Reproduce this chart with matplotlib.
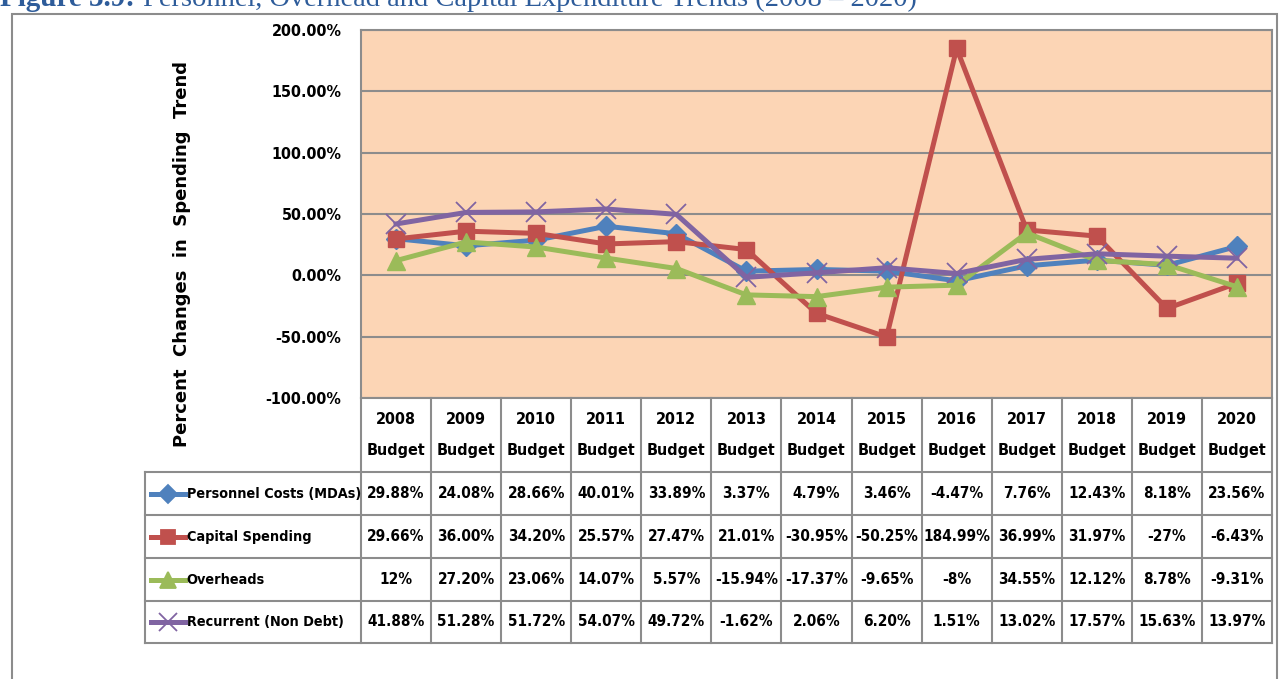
import matplotlib.pyplot as plt
from matplotlib.patches import Rectangle
from matplotlib.lines import Line2D
from matplotlib.ticker import FuncFormatter

# data
years = ['2008', '2009', '2010', '2011', '2012', '2013', '2014',
         '2015', '2016', '2017', '2018', '2019', '2020']
personnel = [29.88, 24.08, 28.66, 40.01, 33.89, 3.37, 4.79, 3.46, -4.47, 7.76, 12.43, 8.18, 23.56]
capital = [29.66, 36.00, 34.20, 25.57, 27.47, 21.01, -30.95, -50.25, 184.99, 36.99, 31.97, -27, -6.43]
overheads = [12, 27.20, 23.06, 14.07, 5.57, -15.94, -17.37, -9.65, -8, 34.55, 12.12, 8.78, -9.31]
recurrent = [41.88, 51.28, 51.72, 54.07, 49.72, -1.62, 2.06, 6.20, 1.51, 13.02, 17.57, 15.63, 13.97]

# the table shows some values without decimals, keep them as printed
personnel_txt = ['29.88%', '24.08%', '28.66%', '40.01%', '33.89%', '3.37%', '4.79%', '3.46%', '-4.47%', '7.76%', '12.43%', '8.18%', '23.56%']
capital_txt = ['29.66%', '36.00%', '34.20%', '25.57%', '27.47%', '21.01%', '-30.95%', '-50.25%', '184.99%', '36.99%', '31.97%', '-27%', '-6.43%']
overheads_txt = ['12%', '27.20%', '23.06%', '14.07%', '5.57%', '-15.94%', '-17.37%', '-9.65%', '-8%', '34.55%', '12.12%', '8.78%', '-9.31%']
recurrent_txt = ['41.88%', '51.28%', '51.72%', '54.07%', '49.72%', '-1.62%', '2.06%', '6.20%', '1.51%', '13.02%', '17.57%', '15.63%', '13.97%']

series = [
    ('Personnel Costs (MDAs)', personnel, personnel_txt, '#4F81BD', 'D', 10),
    ('Capital Spending', capital, capital_txt, '#C0504D', 's', 11.5),
    ('Overheads', overheads, overheads_txt, '#9BBB59', '^', 13),
    ('Recurrent (Non Debt)', recurrent, recurrent_txt, '#8064A2', 'x', 15),
]

plt.rcParams['font.family'] = ['DejaVu Sans']
plt.rcParams['font.stretch'] = 'condensed'
FS = 11

W, H = 1280, 679
fig = plt.figure(figsize=(W / 100, H / 100), dpi=100)


def px(x0, y0, x1, y1):
    # pixel box (top-left origin) to figure fraction
    return [x0 / W, 1 - y1 / H, (x1 - x0) / W, (y1 - y0) / H]


# outer frame
fig.patches.append(Rectangle((12 / W, -0.01), (1277 - 12) / W, 1 - 14 / H + 0.01,
                             transform=fig.transFigure, fill=False,
                             edgecolor='#8c8c8c', linewidth=1.5))

# title, cut by the top edge like in the source
serif = ['Liberation Serif', 'DejaVu Serif']
fig.text(0 / W, 1 - 6 / H, 'Figure 3.9:', color='#2E5C9A', fontsize=21,
         fontweight='bold', family=serif, stretch='normal', va='baseline')
fig.text(143 / W, 1 - 6 / H, 'Personnel, Overhead and Capital Expenditure Trends (2008 \u2013 2020)',
         color='#2E5C9A', fontsize=20.5, family=serif, stretch='normal', va='baseline')

# main plot
ax = fig.add_axes(px(361, 30, 1272, 398))
ax.set_facecolor('#FCD5B5')
x = list(range(len(years)))
for name, vals, _, col, mk, ms in series:
    ax.plot(x, vals, color=col, linewidth=3.6, marker=mk, markersize=ms,
            markeredgewidth=1.3 if mk == 'x' else 1, markeredgecolor=col, zorder=3)
ax.set_xlim(-0.5, len(years) - 0.5)
ax.set_ylim(-100, 200)
ax.set_yticks(range(-100, 201, 50))
ax.yaxis.set_major_formatter(FuncFormatter(lambda v, p: '%.2f%%' % v))
ax.set_xticks([])
ax.tick_params(axis='y', length=0, pad=14, labelsize=FS + 0.5)
for lab in ax.get_yticklabels():
    lab.set_fontweight('bold')
ax.grid(axis='y', color='#8c8c8c', linewidth=1.5)
ax.set_axisbelow(True)
for s in ax.spines.values():
    s.set_color('#8c8c8c')
    s.set_linewidth(1.5)

fig.text(182 / W, 1 - 254 / H, 'Percent  Changes  in  Spending  Trend',
         rotation=90, ha='center', va='center', fontsize=13, fontweight='bold',
         stretch='normal')

# data table
tax = fig.add_axes(px(145, 398, 1272, 643))
left = -0.5 - (361 - 145) / ((1272 - 361) / len(years))
tax.set_xlim(left, len(years) - 0.5)
tax.set_ylim(245, 0)
tax.axis('off')
rows = [0, 74, 117, 160, 203, 245]
gc = '#8c8c8c'
for yy in rows[1:]:
    tax.plot([left, len(years) - 0.5], [yy, yy], color=gc, lw=1.5, clip_on=False)
for i in range(len(years) + 1):
    tax.plot([i - 0.5, i - 0.5], [0, 245], color=gc, lw=1.5, clip_on=False)
tax.plot([left, left], [74, 245], color=gc, lw=1.5, clip_on=False)

for i, yr in enumerate(years):
    tax.text(i, 37, yr + '\nBudget', ha='center', va='center', fontsize=FS + 0.5,
             fontweight='bold', linespacing=2.3)

for r, (name, vals, txts, col, mk, ms) in enumerate(series):
    yc = (rows[r + 1] + rows[r + 2]) / 2
    for i, t in enumerate(txts):
        tax.text(i, yc, t, ha='center', va='center', fontsize=FS, fontweight='bold')
    tax.add_line(Line2D([left + 0.08, left + 0.57], [yc, yc], color=col, lw=3.6,
                        clip_on=False))
    tax.add_line(Line2D([left + 0.325], [yc], color=col, marker=mk, markersize=ms * 0.9,
                        markeredgecolor=col, markeredgewidth=1.3, clip_on=False))
    tax.text(left + 0.595, yc, name, ha='left', va='center', fontsize=10.4, fontweight='bold')

fig.savefig('out.png', dpi=100)
